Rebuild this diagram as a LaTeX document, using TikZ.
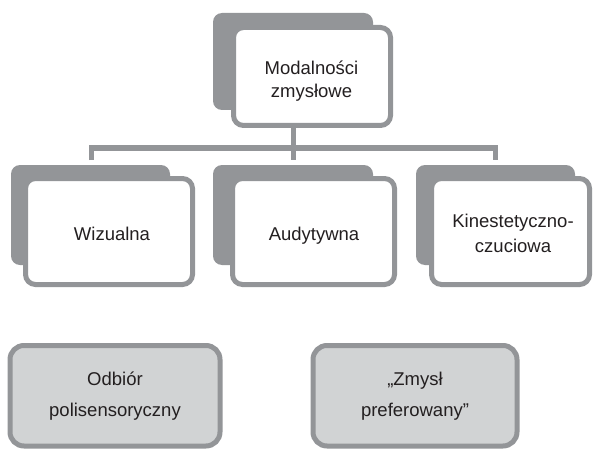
\documentclass[tikz,border=0pt]{standalone}
\usepackage{fontspec}
\setmainfont{Liberation Sans}
\definecolor{bordergray}{HTML}{939598}
\definecolor{lightfill}{HTML}{D1D3D4}
\definecolor{textdark}{HTML}{231F20}
\begin{document}
\begin{tikzpicture}[x=1pt,y=-1pt,
  shadowbox/.style={fill=bordergray,draw=none,rounded corners=9pt},
  frontbox/.style={draw=bordergray,fill=white,line width=5pt,rounded corners=10pt},
  greybox/.style={draw=bordergray,fill=lightfill,line width=5pt,rounded corners=14pt},
  lbl/.style={font=\fontsize{18.5}{22}\selectfont,text=textdark,anchor=base,inner sep=0pt},
  conn/.style={draw=bordergray,line width=5pt,line join=miter}]
\useasboundingbox (0,0) rectangle (593,449);
% top
\fill[shadowbox] (213,13) rectangle (373,110);
\draw[frontbox] (233.5,27.5) rectangle (390.5,125.5);
\coordinate (topbot) at (293,125.5);
% second row shadows and boxes
\fill[shadowbox] (11,165) rectangle (170,265);
\draw[frontbox] (25.5,178.5) rectangle (192.5,284.5);
\fill[shadowbox] (213,165) rectangle (373,265);
\draw[frontbox] (232.5,178.5) rectangle (394.5,284.5);
\fill[shadowbox] (416,165) rectangle (575,265);
\draw[frontbox] (431.5,178.5) rectangle (589.5,284.5);
% connectors
\coordinate (hl) at (91,148);
\coordinate (hm) at (293,148);
\coordinate (hr) at (495,148);
\coordinate (d1) at (91,160);
\coordinate (d2) at (293,160);
\coordinate (d3) at (495,160);
\draw[conn] (d1) -- (hl) -- (hr) -- (d3);
\draw[conn] (topbot) -- (d2);
% bottom boxes
\draw[greybox] (10,345.5) rectangle (220,446);
\draw[greybox] (313,345.5) rectangle (517,446);
% labels
\node[lbl] (t1a) at (311.5,75) {Modalności};
\node[lbl] (t1b) at (311.5,98) {zmysłowe};
\node[lbl] (t2) at (112,240) {Wizualna};
\node[lbl] (t3) at (314,240) {Audytywna};
\node[lbl] (t4a) at (513,227) {Kinestetyczno-};
\node[lbl] (t4b) at (513,252) {czuciowa};
\node[lbl] (t5a) at (115,385) {Odbiór};
\node[lbl] (t5b) at (115,416) {polisensoryczny};
\node[lbl] (t6a) at (415,385) {„Zmysł};
\node[lbl] (t6b) at (415,416) {preferowany”};
\end{tikzpicture}
\end{document}
